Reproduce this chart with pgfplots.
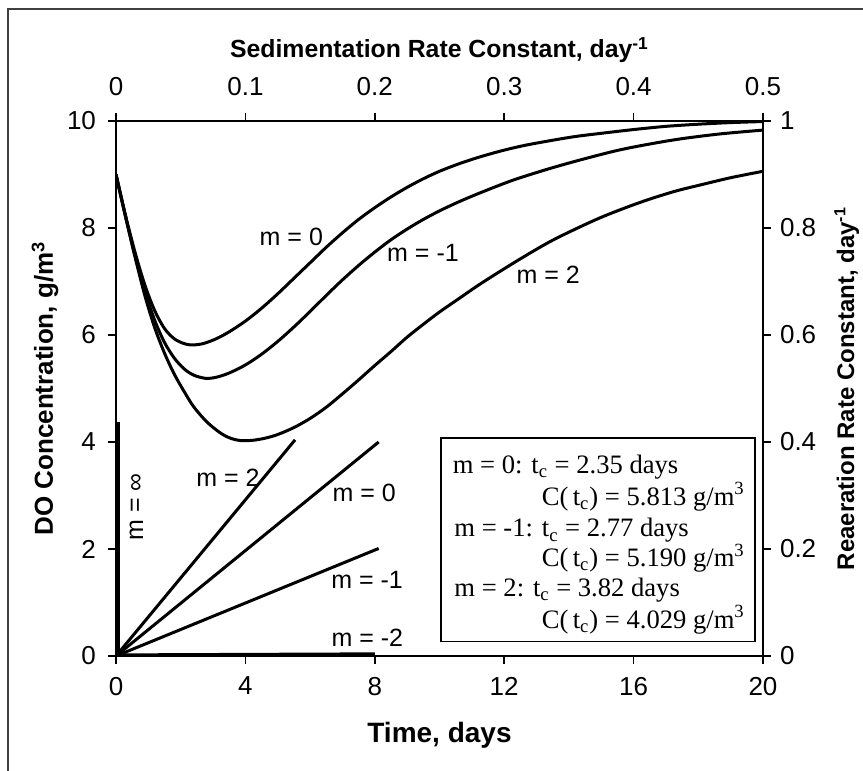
\documentclass[border=0pt]{standalone}
\usepackage{pgfplots}
\pgfplotsset{compat=1.18}
\usepackage{fontspec}
\setmainfont{Liberation Serif}
\setsansfont{Liberation Sans}
\begin{document}
\begin{tikzpicture}
\path[use as bounding box] (-58pt,-57.5pt) rectangle (373.5pt,328pt);
\draw[black!75, line width=0.7pt] (-54pt,-57.5pt) -- (-54pt,323.5pt) -- (373.5pt,323.5pt);
\pgfplotsset{
  common/.style={
    at={(0,0)}, anchor=south west,
    scale only axis, width=323.5pt, height=267.5pt,
    tick align=outside, major tick length=4pt,
    axis line style={line width=1pt},
    tick style={line width=0.8pt, black},
    tick label style={font=\sffamily\fontsize{13}{15}\selectfont},
    /pgf/number format/assume math mode=true,
  },
}
\begin{axis}[common,
  xmin=0, xmax=20, ymin=0, ymax=10,
  xtick={0,4,8,12,16,20}, ytick={0,2,4,6,8,10},
  xtick pos=bottom, ytick pos=left,
  xticklabel shift=3pt, yticklabel shift=2.5pt,
  xlabel={Time, days},
  ylabel={DO Concentration, g/m\textsuperscript{3}},
  xlabel style={at={(axis description cs:0.5,-0.1477)}, anchor=center,
    font=\sffamily\bfseries\fontsize{14}{16}\selectfont},
  ylabel style={at={(axis description cs:-0.1097,0.5)}, anchor=center,
    font=\sffamily\bfseries\fontsize{13}{15}\selectfont},
]
% m = 0
\addplot[black, line width=1.5pt, smooth, line join=round] coordinates {
(0,9.0) (0.3,8.22) (0.6,7.52) (0.9,6.92) (1.2,6.45) (1.5,6.12) (1.8,5.93)
(2.1,5.84) (2.35,5.813) (2.7,5.84) (3.1,5.93) (3.5,6.06) (4.0,6.26) (4.5,6.5)
(5.0,6.77) (5.5,7.06) (6.0,7.35) (6.5,7.64) (7.0,7.91) (7.5,8.16) (8.0,8.38)
(8.5,8.58) (9.0,8.76) (9.5,8.92) (10.0,9.06) (10.6,9.2) (11.2,9.32) (11.9,9.44)
(12.6,9.54) (13.4,9.63) (14.2,9.71) (15,9.77) (16,9.84) (17,9.9) (18,9.94)
(19,9.97) (20,9.99)};
% m = -1
\addplot[black, line width=1.5pt, smooth, line join=round] coordinates {
(0,9.0) (0.3,8.2) (0.6,7.45) (0.9,6.8) (1.2,6.27) (1.5,5.86) (1.8,5.57)
(2.1,5.37) (2.4,5.25) (2.77,5.19) (3.1,5.21) (3.5,5.29) (4.0,5.44) (4.5,5.64)
(5.0,5.88) (5.5,6.15) (6.0,6.44) (6.5,6.74) (7.0,7.03) (7.5,7.3) (8.0,7.55)
(8.5,7.78) (9.0,7.98) (9.5,8.16) (10.0,8.32) (10.6,8.49) (11.35,8.68) (12.3,8.9)
(13.4,9.11) (14.4,9.28) (15.5,9.45) (16.5,9.57) (17.5,9.67) (18.7,9.76) (20,9.83)};
% m = 2
\addplot[black, line width=1.5pt, smooth, line join=round] coordinates {
(0,9.0) (0.3,8.2) (0.6,7.43) (0.9,6.72) (1.2,6.13) (1.5,5.66) (1.8,5.27)
(2.1,4.95) (2.4,4.66) (2.8,4.38) (3.2,4.18) (3.5,4.08) (3.82,4.029) (4.2,4.03)
(4.6,4.07) (5.0,4.14) (5.5,4.27) (6.0,4.44) (6.5,4.65) (7.0,4.9) (7.5,5.16)
(8.0,5.43) (8.5,5.69) (9.0,5.96) (9.5,6.2) (10.0,6.43) (10.6,6.68) (11.2,6.93)
(11.9,7.2) (12.6,7.46) (13.4,7.74) (14.2,7.98) (15,8.2) (15.8,8.39) (16.5,8.54)
(17.3,8.69) (18.1,8.81) (19,8.94) (20,9.06)};
\begin{scope}[every node/.style={font=\sffamily\fontsize{12.5}{14}\selectfont}]
\node at (axis cs:5.42,7.84) {m = 0};
\node at (axis cs:9.49,7.53) {m = -1};
\node at (axis cs:13.36,7.12) {m = 2};
\node at (axis cs:3.46,3.33) {m = 2};
\node at (axis cs:7.67,3.05) {m = 0};
\node at (axis cs:7.76,1.42) {m = -1};
\node at (axis cs:7.77,0.34) {m = -2};
\node[rotate=90] at (axis cs:0.63,2.79) {m = ∞};
\end{scope}
\draw[line width=0.8pt] (axis cs:10.04,0.27) rectangle (axis cs:19.75,4.07);
\begin{scope}[every node/.style={font=\rmfamily\fontsize{13.3}{15}\selectfont, inner sep=0pt}]
\node[anchor=base west] at (axis cs:10.4,3.415) {m = 0: t\textsubscript{c} = 2.35 days};
\node[anchor=base east] at (axis cs:19.45,2.82) {C(\,t\textsubscript{c}) = 5.813 g/m\textsuperscript{3}};
\node[anchor=base west] at (axis cs:10.45,2.23) {m = -1: t\textsubscript{c} = 2.77 days};
\node[anchor=base east] at (axis cs:19.45,1.67) {C(\,t\textsubscript{c}) = 5.190 g/m\textsuperscript{3}};
\node[anchor=base west] at (axis cs:10.45,1.11) {m = 2: t\textsubscript{c} = 3.82 days};
\node[anchor=base east] at (axis cs:19.45,0.52) {C(\,t\textsubscript{c}) = 4.029 g/m\textsuperscript{3}};
\end{scope}
\end{axis}
\begin{axis}[common,
  xmin=0, xmax=0.5, ymin=0, ymax=1,
  axis x line*=top, axis y line*=right,
  xtick={0,0.1,0.2,0.3,0.4,0.5}, ytick={0,0.2,0.4,0.6,0.8,1},
  xticklabel shift=5pt, yticklabel shift=1pt,
  xlabel={Sedimentation Rate Constant, day\textsuperscript{-1}},
  ylabel={Reaeration Rate Constant, day\textsuperscript{-1}},
  xlabel style={at={(axis description cs:0.5,1.1327)}, anchor=center,
    font=\sffamily\bfseries\fontsize{12.4}{15}\selectfont},
  ylabel style={at={(axis description cs:1.1295,0.5)}, anchor=center,
    font=\sffamily\bfseries\fontsize{12}{15}\selectfont},
]
\addplot[black, line width=1.5pt] coordinates {(0,0) (0.1384,0.404)};
\addplot[black, line width=1.5pt] coordinates {(0,0) (0.203,0.40)};
\addplot[black, line width=1.5pt] coordinates {(0,0) (0.203,0.201)};
\addplot[black, line width=1.5pt] coordinates {(0,0.002) (0.2,0.004)};
\addplot[black, line width=1.8pt] coordinates {(0.0018,0) (0.0018,0.438)};
\end{axis}
\end{tikzpicture}
\end{document}
